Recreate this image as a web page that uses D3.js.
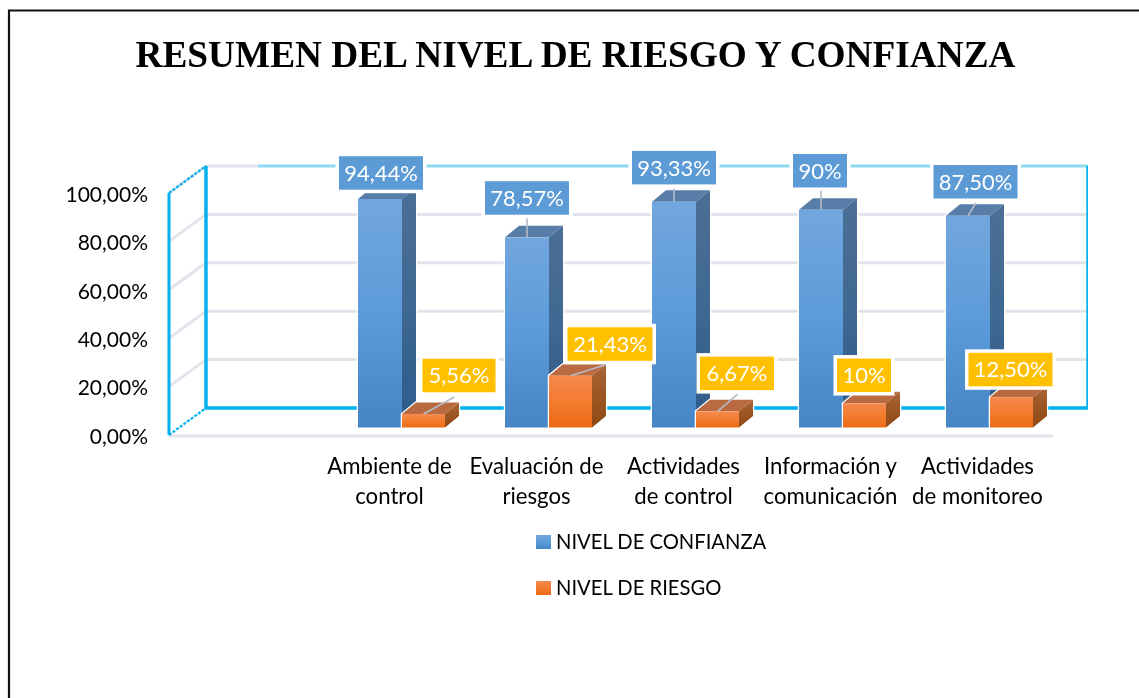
<!DOCTYPE html>
<html><head><meta charset="utf-8">
<style>html,body{margin:0;padding:0;background:#fff}svg{display:block}</style>
<script src="https://cdn.jsdelivr.net/npm/d3@7"></script></head>
<body><svg id="c" width="1139" height="698"></svg>
<script>
const titleText = "RESUMEN DEL NIVEL DE RIESGO Y CONFIANZA";
const categories = ["Ambiente de control","Evaluación de riesgos","Actividades de control","Información y comunicación","Actividades de monitoreo"];
const categoryLines = [["Ambiente de","control"],["Evaluación de","riesgos"],["Actividades","de control"],["Información y","comunicación"],["Actividades","de monitoreo"]];
const seriesNames = ["NIVEL DE CONFIANZA","NIVEL DE RIESGO"];
const confianza = [94.44,78.57,93.33,90,87.5];
const riesgo = [5.56,21.43,6.67,10,12.5];
const confianzaLabels = ["94,44%","78,57%","93,33%","90%","87,50%"];
const riesgoLabels = ["5,56%","21,43%","6,67%","10%","12,50%"];
const yTicks = [0,20,40,60,80,100];

// label placement relative to bar-top centre: [dx, dy, box width, leader end dx, leader end dy]
const blueLayout = [[1,-26,84,null,null],[0,-39.4,84,0,-19],[0,-34,84,0,-13],[-1,-39,54,0,-19],[7.5,-34,84,8,-13]];
const orangeLayout = [[35.5,-38.5,73,31,-17],[39.5,-31.6,85,35,-11],[19.5,-38,74,20,-17],[-0.5,-28,54,null,null],[-1,-27.7,84,null,null]];

const FONT = "Lato, Carlito, sans-serif";
const svg = d3.select("#c");
const defs = svg.append("defs");
function grad(id, stops){
  const g = defs.append("linearGradient").attr("id",id).attr("x1",0).attr("y1",0).attr("x2",0).attr("y2",1);
  stops.forEach((c,i)=>g.append("stop").attr("offset",i/(stops.length-1)).attr("stop-color",c));
}
grad("bf",["#72a6de","#5c9bd9","#4585c6"]);
grad("bs",["#4c6f96","#3f6892","#2b5a8a"]);
grad("of",["#f58a4e","#f37b2e","#ec6b15"]);
grad("os",["#a8663a","#9c5522","#8e4a14"]);
const blur = defs.append("filter").attr("id","soft").attr("x","0").attr("y","0").attr("width","100%").attr("height","100%");
blur.append("feGaussianBlur").attr("stdDeviation",0.5);

const root = svg.append("g").attr("filter","url(#soft)");
// page frame
svg.append("path").attr("d","M9,698V10.5H1139").attr("fill","none").attr("stroke","#111").attr("stroke-width",2.2);

root.append("text").attr("x",575.5).attr("y",66.5).attr("text-anchor","middle")
  .attr("font-family","'Liberation Serif',serif").attr("font-weight","bold").attr("font-size",37.3)
  .attr("fill","#000").text(titleText);

// projection
const y = d3.scaleLinear().domain([0,100]).range([435,193]);
const depth = {dx:37, dy:-27};
const barShift = -7.5;
const x = d3.scaleBand().domain(["", ...categories]).range([181.5,1063.5]).paddingInner(0).paddingOuter(0);
const blueW = 44, orangeW = 43, barDx = 14, barDy = -11.5;
const x0 = 169, x1 = 1053, backRight = 1088;

// gridlines on walls and floor
const grid = root.append("g").attr("stroke","#e1e4ea").attr("stroke-width",3).attr("fill","none");
yTicks.forEach(t=>{
  if(t>0 && t<100) grid.append("line").attr("x1",x0+depth.dx).attr("x2",backRight).attr("y1",y(t)+depth.dy).attr("y2",y(t)+depth.dy);
  if(t>0) grid.append("line").attr("x1",x0).attr("x2",x0+depth.dx).attr("y1",y(t)).attr("y2",y(t)+depth.dy);
});
grid.append("line").attr("x1",x0).attr("x2",x1).attr("y1",y(0)+1).attr("y2",y(0)+1);
grid.append("line").attr("x1",x0+depth.dx).attr("x2",258).attr("y1",y(100)+depth.dy).attr("y2",y(100)+depth.dy);

// blue frame
const frame = root.append("g").attr("fill","none").attr("stroke","#00b0f0");
frame.append("line").attr("x1",258).attr("x2",backRight).attr("y1",y(100)+depth.dy).attr("y2",y(100)+depth.dy).attr("stroke","#8fd8f2").attr("stroke-width",3);
frame.append("path").attr("d",`M${x0+depth.dx},${y(100)+depth.dy}V${y(0)+depth.dy}H${backRight}V${y(100)+depth.dy}`).attr("stroke-width",3.4);
frame.append("line").attr("x1",x0).attr("x2",x0).attr("y1",y(100)).attr("y2",y(0)).attr("stroke-width",3);
frame.append("line").attr("x1",x0).attr("x2",x0+depth.dx).attr("y1",y(100)).attr("y2",y(100)+depth.dy).attr("stroke-width",2.2).attr("stroke-dasharray","3 1.5");
frame.append("line").attr("x1",x0).attr("x2",x0+depth.dx).attr("y1",y(0)).attr("y2",y(0)+depth.dy).attr("stroke-width",2.2).attr("stroke-dasharray","3 1.5");

// y axis labels
const yAxis = d3.axisLeft(y).tickValues(yTicks).tickSize(0).tickPadding(0)
  .tickFormat(d=>d.toFixed(2).replace(".",",")+"%");
const ax = root.append("g").attr("transform","translate(148,0.7)").call(yAxis);
ax.select(".domain").remove();
ax.selectAll("text").attr("font-family",FONT).attr("font-size",21).attr("fill","#000").attr("dy","0.36em");

// bars
const barY = v => y(v)+barShift;
function drawBar(g, left, w, v, f, s, top){
  const t = barY(v), b = barY(0), r = left+w;
  g.append("path").attr("d",`M${left},${b}V${t}L${left+barDx},${t+barDy}H${r+barDx}V${b+barDy}L${r},${b}Z`)
    .attr("fill","#fff").attr("stroke","#fff").attr("stroke-width",2.5);
  g.append("path").attr("d",`M${left},${t}L${left+barDx},${t+barDy}H${r+barDx}L${r},${t}Z`).attr("fill",top);
  g.append("path").attr("d",`M${r},${t}L${r+barDx},${t+barDy}V${b+barDy}L${r},${b}Z`).attr("fill",`url(#${s})`);
  g.append("rect").attr("x",left).attr("y",t).attr("width",w).attr("height",b-t).attr("fill",`url(#${f})`);
}
const bars = root.append("g");
categories.forEach((c,i)=>{
  const cx = x(c)+x.bandwidth()/2;
  drawBar(bars, cx-blueW, blueW, confianza[i], "bf","bs","#587da8");
  drawBar(bars, cx, orangeW, riesgo[i], "of","os","#b96b3f");
});

// data labels
function label(g, cx, v, text, layout, fill){
  const [dx,dy,w,lx,ly] = layout;
  const top = barY(v);
  const h = 33.5, bx = cx+dx-w/2, by = top+dy-h/2;
  g.append("rect").attr("x",bx-3.5).attr("y",by-3.5).attr("width",w+7).attr("height",h+7).attr("fill","#fff");
  g.append("rect").attr("x",bx).attr("y",by).attr("width",w).attr("height",h).attr("fill",fill);
  g.append("text").attr("x",bx+w/2).attr("y",by+h/2).attr("dy","0.36em").attr("text-anchor","middle")
    .attr("font-family",FONT).attr("font-size",22).attr("fill","#fff").text(text);
  if(lx!==null) g.append("line").attr("x1",cx).attr("y1",top).attr("x2",cx+lx).attr("y2",top+ly)
    .attr("stroke","#b4bcc8").attr("stroke-width",1.6);
}
const labels = root.append("g");
categories.forEach((c,i)=>{
  const cx = x(c)+x.bandwidth()/2;
  label(labels, cx-blueW/2, confianza[i], confianzaLabels[i], blueLayout[i], "#5b9bd5");
  label(labels, cx+orangeW/2, riesgo[i], riesgoLabels[i], orangeLayout[i], "#ffc000");
});

// category labels
const catG = root.append("g").attr("font-family",FONT).attr("font-size",22.2).attr("fill","#000").attr("text-anchor","middle");
categories.forEach((c,i)=>{
  const cx = x(c)+x.bandwidth()/2-12.5;
  categoryLines[i].forEach((ln,j)=>catG.append("text").attr("x",cx).attr("y",473.5+j*30).text(ln));
});

// legend
const legend = root.append("g").attr("font-family",FONT).attr("font-size",20.2).attr("fill","#000");
seriesNames.forEach((n,i)=>{
  const ly = 535+i*46;
  legend.append("rect").attr("x",536).attr("y",ly).attr("width",15).attr("height",14).attr("fill",`url(#${i?"of":"bf"})`);
  legend.append("text").attr("x",556).attr("y",ly+14).text(n);
});
</script></body></html>
